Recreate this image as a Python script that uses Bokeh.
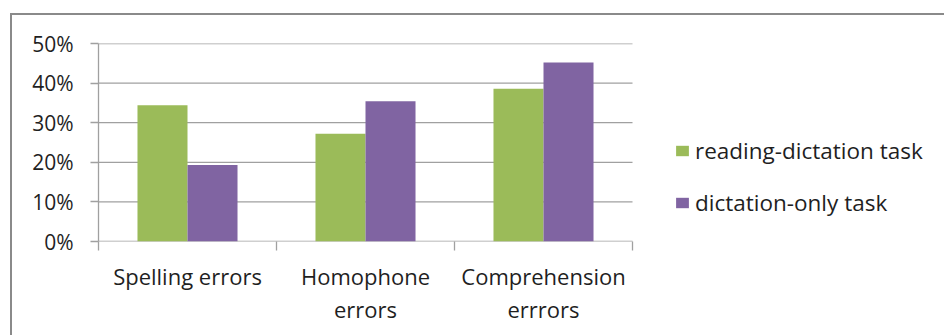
from bokeh.plotting import figure
from bokeh.models import (ColumnDataSource, FixedTicker, Legend, LegendItem,
                          NumeralTickFormatter, Range1d, InlineStyleSheet)
from bokeh.embed import file_html
from bokeh.resources import INLINE

categories = ["Spelling errors", "Homophone\nerrors", "Comprehension\nerrrors"]
reading_dictation = [0.344, 0.272, 0.386]
dictation_only = [0.193, 0.354, 0.452]
series_names = ["reading-dictation task", "dictation-only task"]
y_ticks = [0.0, 0.1, 0.2, 0.3, 0.4, 0.5]

GREEN = "#9BBB59"
PURPLE = "#8064A2"
GRID = "#a0a0a0"
FONT = "Open Sans"
TXT = "#1f1f1f"

n = len(categories)
idx = list(range(n))
centers = [i + 0.5 for i in idx]
bounds = list(range(n + 1))
bw = 0.281
src = ColumnDataSource(dict(
    xg=[c - bw / 2 for c in centers],
    xp=[c + bw / 2 for c in centers],
    g=reading_dictation, pv=dictation_only))
grid_src = ColumnDataSource(dict(x0=[0] * len(y_ticks), x1=[n] * len(y_ticks), y=y_ticks))

# frame spans the full width to the right so the legend is not clipped;
# the category area occupies the first 534 px of it
p = figure(width=944, height=335, output_backend="svg", toolbar_location=None,
           x_range=Range1d(0, n * 846 / 534), y_range=Range1d(0, 0.5),
           min_border_left=98, min_border_right=0, min_border_top=43,
           min_border_bottom=94)
p.outline_line_color = None
p.background_fill_color = None
p.border_fill_color = None
p.stylesheets = [InlineStyleSheet(css="""
:host { background: white; position: relative; }
:host::after { content: ""; position: absolute; left: 10px; top: 13px;
  right: 0; bottom: 0; border-top: 2px solid #8a8a8a;
  border-left: 2px solid #8a8a8a; pointer-events: none; }
""")]

p.segment(x0="x0", x1="x1", y0="y", y1="y", source=grid_src,
          line_color=GRID, line_width=1.3)
rg = p.vbar(x="xg", top="g", width=bw, source=src, fill_color=GREEN, line_color=None)
rp = p.vbar(x="xp", top="pv", width=bw, source=src, fill_color=PURPLE, line_color=None)

# y axis
ya = p.yaxis[0]
ya.ticker = FixedTicker(ticks=y_ticks)
ya.formatter = NumeralTickFormatter(format="0%")
ya.axis_line_color = GRID
ya.axis_line_width = 1.3
ya.major_tick_line_color = GRID
ya.major_tick_line_width = 1.3
ya.major_tick_out = 8
ya.major_tick_in = 0
ya.minor_tick_line_color = None
ya.major_label_text_font = FONT
ya.major_label_text_font_size = "21px"
ya.major_label_text_color = TXT
ya.major_label_standoff = 17

# x axis
xa = p.xaxis[0]
xa.ticker = FixedTicker(ticks=centers, minor_ticks=bounds)
xa.major_label_overrides = {c: lab for c, lab in zip(centers, categories)}
xa.axis_line_color = None
xa.major_tick_line_color = None
xa.minor_tick_line_color = GRID
xa.minor_tick_line_width = 1.3
xa.minor_tick_out = 9
xa.minor_tick_in = 0
xa.major_label_text_font = FONT
xa.major_label_text_font_size = "22px"
xa.major_label_text_color = TXT
xa.major_label_standoff = 10
xa.major_label_text_line_height = 1.12

p.xgrid.grid_line_color = None
p.ygrid.grid_line_color = None

legend = Legend(items=[LegendItem(label=series_names[0], renderers=[rg]),
                       LegendItem(label=series_names[1], renderers=[rp])],
                location=(576, 23), orientation="vertical",
                border_line_color=None, background_fill_alpha=0,
                padding=0, margin=0, spacing=21,
                glyph_width=16, glyph_height=13, label_height=28,
                label_standoff=5, label_text_font=FONT,
                label_text_font_size="22.5px", label_text_color=TXT)
p.add_layout(legend, "center")

open("out.html", "w").write(file_html(p, INLINE))
